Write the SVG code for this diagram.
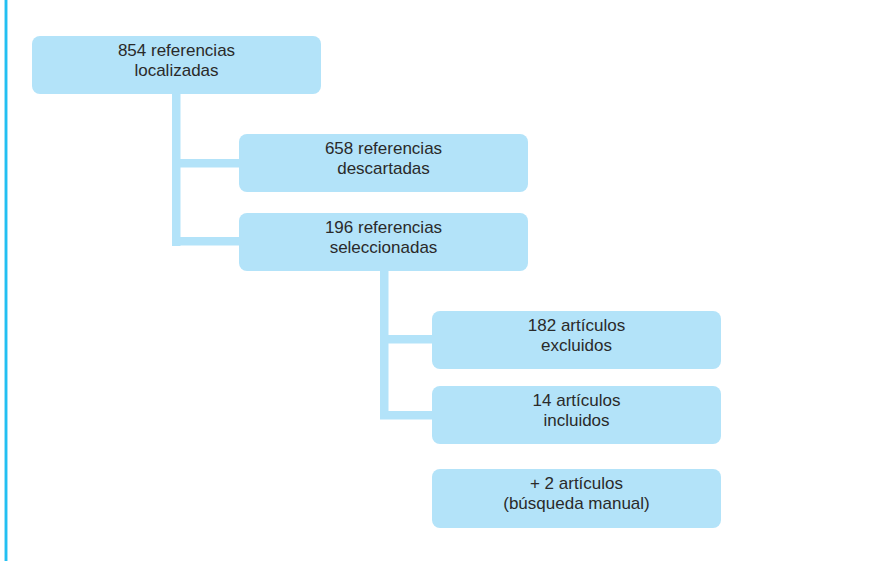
<svg xmlns="http://www.w3.org/2000/svg" width="869" height="561" viewBox="0 0 869 561">
<style>
.box{fill:#b3e3f9;}
.lbl{font-family:"Liberation Sans",Arial,sans-serif;font-size:17px;fill:#2a2a2a;text-anchor:middle;}
.conn{fill:#b3e3f9;}
</style>
<rect x="0" y="0" width="869" height="561" fill="#ffffff"/>
<rect x="4" y="0" width="4" height="561" fill="#9fe0f7"/>
<rect x="5" y="0" width="2" height="561" fill="#22c0f2"/>
<g id="connectors">
<rect class="conn" x="172" y="93" width="8.5" height="153"/>
<rect class="conn" x="172" y="159" width="68" height="8.5"/>
<rect class="conn" x="172" y="237" width="68" height="8.5"/>
<rect class="conn" x="380" y="270" width="8.5" height="149"/>
<rect class="conn" x="380" y="335" width="53" height="8.5"/>
<rect class="conn" x="380" y="411" width="53" height="8.5"/>
</g>
<g id="n1">
<rect class="box" x="32" y="36" width="289" height="58" rx="8"/>
<text class="lbl" x="176.5" y="56">854 referencias</text>
<text class="lbl" x="176.5" y="76">localizadas</text>
</g>
<g id="n2">
<rect class="box" x="239" y="134" width="289" height="58" rx="8"/>
<text class="lbl" x="383.5" y="154">658 referencias</text>
<text class="lbl" x="383.5" y="173.5">descartadas</text>
</g>
<g id="n3">
<rect class="box" x="239" y="213" width="289" height="58" rx="8"/>
<text class="lbl" x="383.5" y="233">196 referencias</text>
<text class="lbl" x="383.5" y="252.5">seleccionadas</text>
</g>
<g id="n4">
<rect class="box" x="432" y="311" width="289" height="58" rx="8"/>
<text class="lbl" x="576.5" y="331">182 artículos</text>
<text class="lbl" x="576.5" y="350.5">excluidos</text>
</g>
<g id="n5">
<rect class="box" x="432" y="386" width="289" height="58" rx="8"/>
<text class="lbl" x="576.5" y="406">14 artículos</text>
<text class="lbl" x="576.5" y="425.5">incluidos</text>
</g>
<g id="n6">
<rect class="box" x="432" y="469" width="289" height="59" rx="8"/>
<text class="lbl" x="576.5" y="489">+ 2 artículos</text>
<text class="lbl" x="576.5" y="508.5">(búsqueda manual)</text>
</g>
</svg>
